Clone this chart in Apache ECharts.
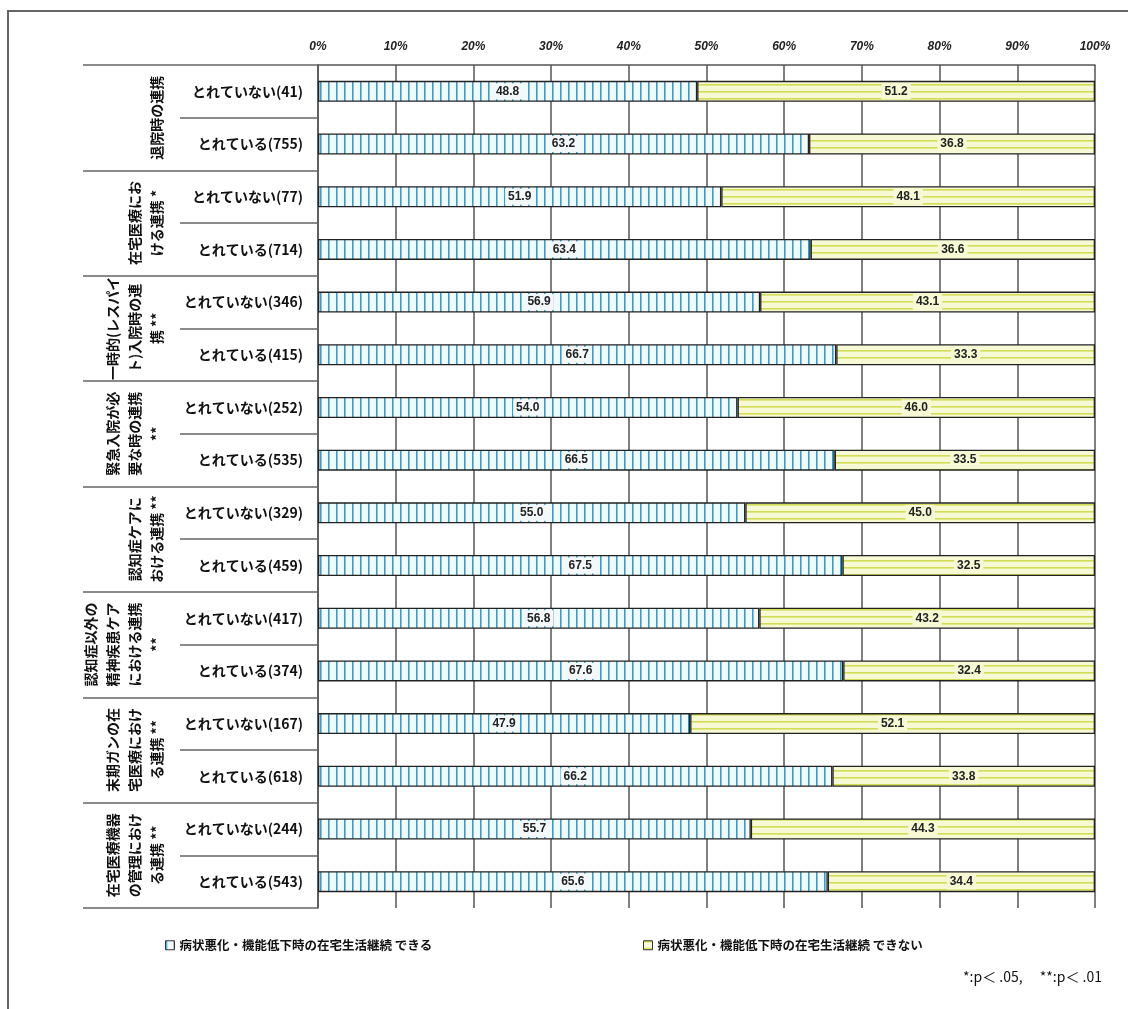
<!DOCTYPE html>
<html>
<head>
<meta charset="utf-8">
<script src="https://cdn.jsdelivr.net/npm/echarts@6/dist/echarts.min.js"></script>
<style>
html,body{margin:0;padding:0;background:#fff;}
#chart{width:1128px;height:1009px;}
</style>
</head>
<body>
<div id="chart"></div>
<script>
// ---- data ----
const rowLabels = [
  'とれていない(41)', 'とれている(755)',
  'とれていない(77)', 'とれている(714)',
  'とれていない(346)', 'とれている(415)',
  'とれていない(252)', 'とれている(535)',
  'とれていない(329)', 'とれている(459)',
  'とれていない(417)', 'とれている(374)',
  'とれていない(167)', 'とれている(618)',
  'とれていない(244)', 'とれている(543)'
];
const groupLabels = [
  '退院時の連携',
  '在宅医療にお\nける連携 *',
  '一時的(レスパイ\nト)入院時の連\n携 **',
  '緊急入院が必\n要な時の連携\n**',
  '認知症ケアに\nおける連携 **',
  '認知症以外の\n精神疾患ケア\nにおける連携\n**',
  '末期ガンの在\n宅医療におけ\nる連携 **',
  '在宅医療機器\nの管理におけ\nる連携 **'
];
const canDo =    [48.8, 63.2, 51.9, 63.4, 56.9, 66.7, 54.0, 66.5, 55.0, 67.5, 56.8, 67.6, 47.9, 66.2, 55.7, 65.6];
const cannotDo = [51.2, 36.8, 48.1, 36.6, 43.1, 33.3, 46.0, 33.5, 45.0, 32.5, 43.2, 32.4, 52.1, 33.8, 44.3, 34.4];
const seriesNames = ['病状悪化・機能低下時の在宅生活継続 できる', '病状悪化・機能低下時の在宅生活継続 できない'];
const footnote = '*:p＜ .05,　 **:p＜ .01';

// ---- patterns ----
function makeBluePattern() {
  const c = document.createElement('canvas');
  c.width = 8; c.height = 8;
  const g = c.getContext('2d');
  g.fillStyle = '#f3f9fb'; g.fillRect(0, 0, 8, 8);
  g.fillStyle = '#3f9cc0'; g.fillRect(0, 0, 1.6, 8);
  return c;
}
function makeYellowPattern() {
  const c = document.createElement('canvas');
  c.width = 8; c.height = 7;
  const g = c.getContext('2d');
  g.fillStyle = '#f6f9d4'; g.fillRect(0, 0, 8, 7);
  g.fillStyle = '#d3dc55'; g.fillRect(0, 0, 8, 1.6);
  return c;
}
const bluePat = { image: makeBluePattern(), repeat: 'repeat' };
const yellowPat = { image: makeYellowPattern(), repeat: 'repeat' };

const chart = echarts.init(document.getElementById('chart'), null, { renderer: 'canvas' });
const CJK = '"Noto Sans CJK JP", "Noto Sans", sans-serif';

function labelCfg(bg) {
  return {
    show: true,
    position: 'inside',
    formatter: p => Number(p.value).toFixed(1),
    color: '#222',
    fontSize: 12,
    fontWeight: 'bold',
    fontFamily: '"Liberation Sans", Arial, sans-serif',
    backgroundColor: bg,
    padding: [2, 3]
  };
}

const option = {
  backgroundColor: '#ffffff',
  animation: false,
  grid: { left: 318, right: 33, top: 65, bottom: 101, containLabel: false },
  xAxis: {
    type: 'value', position: 'top', min: 0, max: 100, interval: 10,
    axisLine: { show: true, lineStyle: { color: '#555', width: 1.5 } },
    axisTick: { show: false },
    axisLabel: {
      formatter: '{value}%', margin: 12, fontSize: 12, fontWeight: 'bold', fontStyle: 'italic',
      color: '#222', fontFamily: '"Liberation Sans", Arial, sans-serif'
    },
    splitLine: { show: true, lineStyle: { color: '#555', width: 1.5 } }
  },
  yAxis: [
    {
      type: 'category', data: rowLabels, inverse: true, position: 'left',
      axisLine: { show: true, lineStyle: { color: '#555', width: 1.5 } },
      axisTick: { show: true, length: 138, lineStyle: { color: '#666', width: 1.5 } },
      axisLabel: { interval: 0, margin: 15, fontSize: 14, fontWeight: 'bold', color: '#111', fontFamily: CJK },
      splitLine: { show: false }
    },
    {
      type: 'category', data: groupLabels, inverse: true, position: 'left', offset: 0,
      axisLine: { show: false },
      axisTick: { show: true, length: 235, lineStyle: { color: '#666', width: 1.5 } },
      axisLabel: {
        interval: 0, rotate: 90, margin: 150, fontSize: 14, fontWeight: 'bold', lineHeight: 22,
        color: '#111', fontFamily: CJK
      },
      splitLine: { show: false }
    }
  ],
  legend: [
    {
      data: [seriesNames[0]], left: 160, top: 934, icon: 'rect', itemWidth: 9, itemHeight: 9, itemGap: 4,
      itemStyle: { borderColor: '#333', borderWidth: 1 },
      textStyle: { fontSize: 12.5, fontWeight: 'bold', color: '#111', fontFamily: CJK }
    },
    {
      data: [seriesNames[1]], left: 638, top: 934, icon: 'rect', itemWidth: 9, itemHeight: 9, itemGap: 4,
      itemStyle: { borderColor: '#333', borderWidth: 1 },
      textStyle: { fontSize: 12.5, fontWeight: 'bold', color: '#111', fontFamily: CJK }
    }
  ],
  graphic: [
    {
      type: 'rect', silent: true, z: -1,
      shape: { x: 8, y: 11, width: 1130, height: 1010 },
      style: { fill: 'none', stroke: '#666', lineWidth: 2 }
    },
    {
      type: 'text', right: 26, top: 970,
      style: { text: footnote, fontSize: 14, fill: '#111', fontFamily: CJK }
    }
  ],
  series: [
    {
      name: seriesNames[0], type: 'bar', stack: 'total', yAxisIndex: 0, barWidth: 21,
      data: canDo,
      itemStyle: { color: bluePat, borderColor: '#222', borderWidth: 1.3 },
      label: labelCfg('#f3f9fb')
    },
    {
      name: seriesNames[1], type: 'bar', stack: 'total', yAxisIndex: 0, barWidth: 21,
      data: cannotDo,
      itemStyle: { color: yellowPat, borderColor: '#222', borderWidth: 1.3 },
      label: labelCfg('#f6f9d4')
    }
  ]
};
chart.setOption(option);
</script>
</body>
</html>
